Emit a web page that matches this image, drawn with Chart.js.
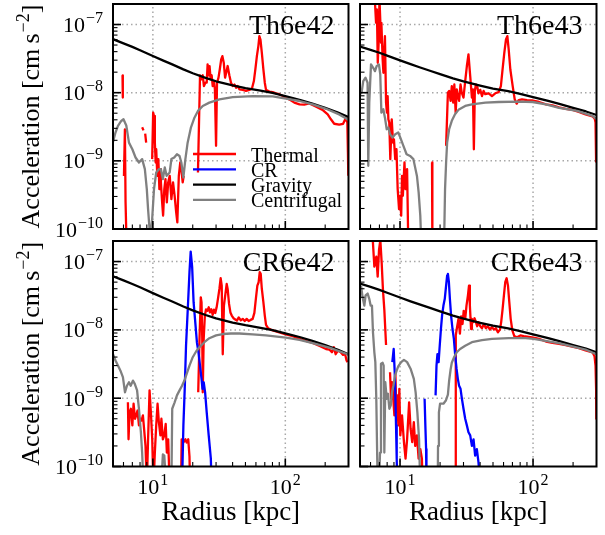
<!DOCTYPE html>
<html>
<head>
<meta charset="utf-8">
<script src="https://cdn.jsdelivr.net/npm/chart.js@4.4.1/dist/chart.umd.min.js"></script>
<style>
html,body{margin:0;padding:0;background:#ffffff;}
#wrap{position:relative;width:605px;height:535px;overflow:hidden;background:#ffffff;}
#wrap canvas{position:absolute;left:0;top:0;}
</style>
</head>
<body>
<div id="wrap">
<canvas id="c1" width="605" height="535"></canvas>
<canvas id="c2" width="605" height="535"></canvas>
<canvas id="c3" width="605" height="535"></canvas>
<canvas id="c4" width="605" height="535"></canvas>
</div>
<script>
// ---------------- labels ----------------
const panelTitles = ['Th6e42', 'Th6e43', 'CR6e42', 'CR6e43'];
const seriesNames = ['Thermal', 'CR', 'Gravity', 'Centrifugal'];
const seriesColors = ['#ff0000', '#0000ff', '#000000', '#808080'];
const xAxisTitle = 'Radius [kpc]';
const yAxisTitleParts = ['Acceleration [cm\u2009s', '\u22122', ']'];
const xTickValues = [10, 100];
const xTickExps = ['1', '2'];
const yTickValues = [1e-10, 1e-9, 1e-8, 1e-7];
const yTickExps = ['\u221210', '\u22129', '\u22128', '\u22127'];
const xMinorTicks = [6, 7, 8, 9, 20, 30, 40, 50, 60, 70, 80, 90, 200];

// ---------------- data: [radius kpc, acceleration cm s^-2] ----------------
const gravityLeft = [[5,6.1e-8],[6,5.3e-8],[7,4.7e-8],[8,4.2e-8],[10,3.45e-8],[12,2.95e-8],[14,2.6e-8],[17,2.2e-8],[20,1.93e-8],[25,1.65e-8],[30,1.47e-8],[40,1.28e-8],[50,1.17e-8],[65,1.07e-8],[80,9.9e-9],[100,8.9e-9],[130,7.8e-9],[160,6.9e-9],[200,6.0e-9],[250,5.1e-9],[300,4.4e-9]];
const gravityRight = [[5,4.75e-8],[6,4.25e-8],[7,3.85e-8],[8,3.5e-8],[10,2.98e-8],[12,2.62e-8],[14,2.36e-8],[17,2.08e-8],[20,1.87e-8],[25,1.62e-8],[30,1.46e-8],[40,1.27e-8],[50,1.15e-8],[65,1.05e-8],[80,9.6e-9],[100,8.6e-9],[130,7.6e-9],[160,6.8e-9],[200,6.0e-9],[250,5.3e-9],[300,4.7e-9]];

// Th6e42
const th42Thermal = [[5.9,1.8e-8],[5.93,8.5e-9],[6.0,null],[6.05,6.0e-10],[6.15,2.9e-9],[6.22,2.46e-10],[6.3,8.9e-11],[7.5,null],[8.3,3.1e-9],[8.5,2.8e-9],[8.6,null],[8.75,2.5e-9],[8.9,1.85e-9],[9.5,null],
[9.88,1.06e-9],[10.05,5.1e-9],[10.2,4.56e-9],[10.35,1.85e-9],[10.5,9.46e-10],[10.6,1.48e-9],[10.8,6.03e-10],[11.0,1.06e-9],[11.2,3.85e-10],[11.4,7.55e-10],[11.5,4.82e-10],[11.75,2.46e-10],[11.95,1.57e-10],[12.2,3.85e-10],[12.45,5.39e-10],[12.75,2.46e-10],[13.05,4.82e-10],[13.4,6.03e-10],[13.8,2.75e-10],[14.2,4.82e-10],[14.6,3.07e-10],[15.0,1.75e-10],[15.3,1.25e-10],[15.7,6.03e-10],[16.1,9.46e-10],[16.4,7.55e-10],[16.8,4.82e-10],[17.1,6.03e-10],[20.0,null],
[21.9,6.75e-10],[22.7,1.8e-8],[23.2,1.57e-8],[23.8,1.8e-8],[24.3,1.25e-8],[24.9,1.4e-8],[25.5,1.4e-8],[25.9,2.6e-8],[26.3,1.8e-8],[26.8,2.46e-8],[27.3,1.57e-8],[27.8,1.8e-8],[28.3,1.25e-8],[28.9,1.48e-8],[29.4,1.12e-8],[30.0,1.66e-9],[30.5,1.4e-8],[31.3,1.66e-8],[32.0,2.19e-8],[32.8,3.07e-8],[33.5,3.44e-8],[34.3,2.75e-8],[35.1,1.66e-8],[36.7,2.46e-8],[37.8,1.8e-8],[38.9,1.4e-8],[40.1,1.25e-8],[41.3,1.32e-8],[42.5,1.18e-8],[43.7,1.25e-8],[45.0,1.12e-8],[47.7,1.1e-8],[50.5,1.06e-8],[53.5,1.1e-8],[56.0,1.15e-8],[57.9,1.48e-8],[59.4,2.19e-8],[61.0,3.44e-8],[62.6,4.82e-8],[63.7,6.75e-8],[64.9,6.03e-8],[66.5,3.85e-8],[68.3,2.19e-8],[70.0,1.4e-8],[71.5,1.1e-8],[75.8,1.04e-8],[80.3,1.02e-8],[85.1,9.8e-9],[90.1,9.5e-9],[95.5,8.93e-9],[101,8.45e-9],[107,7.98e-9],[117,7.14e-9],[128,6.75e-9],[139,6.7e-9],[152,6.95e-9],[171,6.2e-9],[191,5.6e-9],[209,4.8e-9],[221,4.07e-9],[234,3.5e-9],[255,3.4e-9],[273,3.5e-9],[287,4.3e-9],[294,3.64e-9],[297,1.32e-9],[299,6.03e-10]];
const th42Centrifugal = [[5.0,1.9e-9],[5.22,2.6e-9],[5.45,3.25e-9],[5.77,3.85e-9],[6.0,4.07e-9],[6.3,3.3e-9],[6.6,1.85e-9],[7.0,1.48e-9],[7.4,1.12e-9],[7.85,9.46e-10],[8.3,1.06e-9],[8.7,7.55e-10],[9.0,3.85e-10],[9.2,1.96e-10],[9.44,1.0e-10],[9.65,8.9e-11],[9.88,1.4e-10],[10.2,3.85e-10],[10.6,6.75e-10],[11.1,7.55e-10],[11.5,7.55e-10],[11.9,5.39e-10],[12.3,8.0e-10],[12.7,6.03e-10],[13.4,6.75e-10],[13.8,1.06e-9],[14.5,1.12e-9],[15.2,1.25e-9],[15.9,1.18e-9],[16.4,9.46e-10],[17.0,5.7e-10],[17.6,1.06e-9],[18.3,1.85e-9],[19.4,3.1e-9],[20.6,4.3e-9],[21.9,5.4e-9],[23.8,6.38e-9],[26.7,7.14e-9],[31.8,7.98e-9],[40.1,8.6e-9],[56.7,8.93e-9],[80.3,8.8e-9],[101,8.2e-9],[128,7.55e-9],[161,6.75e-9],[203,5.8e-9],[255,4.8e-9],[295,4.07e-9],[300,3.95e-9]];

// Th6e43
const th43Thermal = [[6.45,2.5e-7],[6.6,1.06e-7],[6.7,1.66e-7],[6.8,2.75e-8],[6.94,6.75e-8],[7.0,2.5e-7],[7.1,1.18e-7],[7.2,5.39e-8],[7.24,1.06e-7],[7.4,3.07e-8],[7.5,1.96e-8],[7.7,6.75e-8],[7.85,7.14e-9],[7.97,5.1e-9],[8.07,8.93e-9],[8.17,4.07e-9],[8.3,3.64e-9],[8.45,1.06e-9],[8.66,4.07e-9],[8.86,1.85e-9],[9.0,2.07e-9],[9.2,1.06e-9],[9.4,1.48e-9],[9.6,3.85e-10],[9.83,1.96e-10],[10.0,3.07e-10],[10.2,1.57e-10],[10.35,6.03e-10],[10.5,3.07e-10],[10.8,9.46e-10],[11.0,3.85e-10],[11.3,7.55e-10],[11.55,5e-11],[15,null],[17.4,9.46e-10],[17.5,5e-11],[20,null],
[22.2,1.66e-9],[22.9,1.0e-8],[23.4,1.06e-8],[24.0,7.6e-9],[24.5,1.25e-8],[25.1,7.14e-9],[25.6,1.32e-8],[26.2,5.1e-9],[26.7,1.12e-8],[27.2,8.93e-9],[27.8,7.6e-9],[28.5,1.32e-8],[29.1,1.0e-8],[30.0,8.45e-9],[30.9,1.48e-8],[31.8,2.46e-8],[32.7,3.64e-8],[33.7,1.75e-8],[34.7,8.45e-9],[35.3,1.12e-8],[35.9,1.48e-9],[36.5,1.06e-8],[37.2,1.32e-8],[38.0,1.25e-8],[38.9,9.8e-9],[40.1,1.1e-8],[41.3,8.93e-9],[42.5,1.06e-8],[43.7,9.5e-9],[46.4,9.8e-9],[49.1,8.93e-9],[52.0,9.8e-9],[55.1,1.02e-8],[57.3,1.25e-8],[59.0,2.19e-8],[60.8,3.85e-8],[62.6,6.03e-8],[64.1,6.75e-8],[65.6,4.31e-8],[67.5,2.19e-8],[70.3,1.25e-8],[72.8,7.98e-9],[75.4,6.9e-9],[78.0,7.8e-9],[82.6,7.98e-9],[90.1,7.8e-9],[98.2,7.7e-9],[111,7.3e-9],[125,6.75e-9],[140,6.5e-9],[157,6.1e-9],[176,5.8e-9],[198,5.6e-9],[221,5.2e-9],[248,4.8e-9],[280,4.5e-9],[291,4.15e-9],[295,3.64e-9],[298,9.46e-10]];
const th43Centrifugal = [[5.0,9.5e-9],[5.14,1.0e-8],[5.29,1.48e-8],[5.5,1.66e-8],[5.7,1.4e-8],[5.77,8.45e-10],[5.87,7.14e-9],[6.05,2.6e-8],[6.3,2.3e-8],[6.48,2.07e-8],[6.67,2.45e-8],[6.94,2.6e-8],[7.1,1.86e-8],[7.24,5.1e-9],[7.49,5.7e-9],[7.7,4.3e-9],[7.94,2.91e-9],[8.17,3.08e-9],[8.41,2.46e-9],[8.77,2.19e-9],[9.2,2.46e-9],[9.7,2.6e-9],[10.05,2.19e-9],[10.6,1.66e-9],[11.2,1.25e-9],[11.9,1.18e-9],[12.6,1.06e-9],[13.4,6.0e-10],[13.8,3.44e-10],[14.2,1.57e-10],[14.5,5e-11],[18,null],
[21.4,5e-11],[21.8,3.85e-10],[22.2,9.46e-10],[22.6,1.85e-9],[23.4,2.91e-9],[24.5,3.87e-9],[25.9,4.83e-9],[27.5,5.6e-9],[30.9,6.38e-9],[34.7,6.75e-9],[43.8,7.14e-9],[55.1,7.3e-9],[78.0,7.4e-9],[99.3,7.3e-9],[125,6.75e-9],[157,6.0e-9],[214,5.4e-9],[280,4.56e-9],[300,4.1e-9]];

// CR6e42
const cr42Thermal = [[6.48,8.7e-10],[6.55,2.5e-10],[6.67,6.2e-10],[6.82,7.0e-10],[7.0,4.0e-10],[7.15,8.3e-10],[7.33,5.0e-10],[7.49,5.6e-10],[7.66,6.6e-10],[7.85,4.0e-10],[8.03,5.0e-10],[8.22,4.7e-10],[8.41,5.6e-10],[8.6,3.4e-10],[8.8,2.0e-10],[9.0,5e-11],[9.2,2.5e-10],[9.44,1.3e-9],[9.66,6.2e-10],[9.89,2.5e-10],[10.1,5e-11],[10.35,1.6e-10],[10.6,4.0e-10],[10.85,8.3e-10],[11.1,4.45e-10],[11.4,2.85e-10],[11.6,5.0e-10],[11.9,2.5e-10],[12.2,2.85e-10],[12.5,4.2e-10],[12.75,1.6e-10],[13.05,2.5e-10],[13.4,5e-11],[15,null],
[16.3,5e-11],[16.5,2.5e-10],[17.0,2.25e-10],[17.6,2.5e-10],[18.0,2.25e-10],[18.5,2.5e-10],[18.9,1.4e-10],[19.1,5e-11],[20.5,null],
[22.0,1.22e-9],[22.5,7.4e-9],[23.0,3.0e-8],[23.3,2.55e-8],[23.6,7.4e-9],[23.8,1.22e-9],[24.2,7.4e-9],[24.7,1.62e-8],[25.2,2.0e-8],[25.8,1.9e-8],[26.4,2.14e-8],[27.0,1.8e-8],[27.6,2.0e-8],[28.3,1.66e-8],[28.9,1.98e-8],[29.6,1.77e-8],[30.3,2.14e-8],[31.0,2.85e-8],[31.8,3.97e-8],[32.5,5.7e-8],[33.1,4.45e-8],[33.7,4.4e-9],[34.4,2.27e-8],[35.3,3.37e-8],[36.1,4.7e-8],[36.7,3.97e-8],[37.6,2.4e-8],[38.5,1.8e-8],[39.4,1.62e-8],[40.6,1.48e-8],[41.9,1.42e-8],[43.1,1.37e-8],[44.5,1.52e-8],[46.1,1.38e-8],[47.7,1.45e-8],[49.4,1.35e-8],[51.1,1.45e-8],[52.9,1.35e-8],[54.7,1.4e-8],[56.7,1.45e-8],[58.4,1.77e-8],[60.1,3.0e-8],[61.5,4.45e-8],[62.9,4.98e-8],[64.1,7.0e-8],[65.2,6.6e-8],[66.5,3.97e-8],[68.3,2.55e-8],[70.0,1.62e-8],[71.5,1.18e-8],[74.1,1.06e-8],[77.5,1.01e-8],[82.7,9.65e-9],[90.1,9.2e-9],[101,8.6e-9],[114,8.1e-9],[128,7.4e-9],[143,6.9e-9],[161,6.45e-9],[180,5.85e-9],[203,5.25e-9],[215,5.15e-9],[225,4.7e-9],[232,5.6e-9],[240,4.4e-9],[250,5.0e-9],[262,4.7e-9],[273,4.3e-9],[283,4.4e-9],[290,3.56e-9],[295,3.37e-9]];
const cr42CR = [[16.6,5e-11],[17.0,4.0e-10],[17.4,1.37e-9],[17.8,5.9e-9],[18.4,2.27e-8],[18.9,7.0e-8],[19.3,1.4e-7],[19.8,8.3e-8],[20.3,2.54e-8],[20.8,1.45e-8],[21.5,6.6e-9],[22.1,4.7e-9],[22.7,3.0e-9],[23.3,1.92e-9],[23.7,1.37e-9],[24.2,1.71e-9],[24.8,1.22e-9],[25.5,6.2e-10],[26.4,2.85e-10],[27.4,1.3e-10],[27.8,5e-11]];
const cr42Centrifugal = [[5.0,4.4e-9],[5.22,3.56e-9],[5.45,3.0e-9],[5.68,2.55e-9],[5.94,2.03e-9],[6.16,1.22e-9],[6.37,1.52e-9],[6.6,1.71e-9],[6.8,1.52e-9],[7.07,1.81e-9],[7.3,1.62e-9],[7.6,1.3e-9],[7.85,7.0e-10],[8.12,3.17e-10],[8.3,1.6e-10],[8.5,5e-11],[11.55,5e-11],[11.9,1.5e-10],[12.2,1.44e-10],[12.6,5e-11],[13.8,5e-11],[14.0,7.0e-10],[14.6,8.7e-10],[15.2,1.1e-9],[15.9,1.3e-9],[16.6,1.52e-9],[17.3,1.81e-9],[18.0,2.27e-9],[18.9,3.0e-9],[20.0,3.98e-9],[21.2,4.83e-9],[22.5,5.6e-9],[24.5,6.6e-9],[26.7,7.55e-9],[30.0,8.3e-9],[33.7,8.7e-9],[38.9,8.85e-9],[45.0,8.85e-9],[56.7,8.6e-9],[71.5,8.3e-9],[101,7.7e-9],[128,7.14e-9],[161,6.38e-9],[215,5.5e-9],[295,4.4e-9],[300,4.3e-9]];

// CR6e43
const cr43Thermal = [[6.19,2.5e-7],[6.26,1.85e-7],[6.41,8.45e-8],[6.63,1.18e-7],[6.79,6.03e-8],[6.95,1.48e-7],[7.11,2.07e-7],[7.28,9.4e-8],[7.44,3.85e-8],[7.62,1.96e-8],[7.75,1.0e-8],[7.85,6.0e-9],[8.0,null],
[8.41,2.4e-9],[8.56,9.8e-10],[8.70,1.71e-9],[8.86,1.1e-9],[9.07,5.6e-10],[9.22,2.4e-9],[9.39,6.2e-10],[9.55,1.1e-9],[9.71,4.0e-10],[9.88,1.37e-9],[10.05,2.85e-10],[10.35,5.6e-10],[10.7,2.27e-10],[11.0,1.3e-10],[11.3,2.5e-10],[11.7,8.7e-10],[12.0,3.6e-10],[12.35,2.27e-10],[12.7,4.45e-10],[13.0,2.0e-10],[13.4,2.85e-10],[13.8,1.3e-10],[14.2,1.8e-10],[14.6,1.3e-10],[14.8,5e-11],[20,null],
[26.0,5e-11],[26.2,1.92e-9],[26.3,8.3e-9],[26.7,1.03e-8],[27.5,1.45e-8],[28.2,8.8e-9],[28.8,1.58e-8],[29.5,1.22e-8],[30.1,1.9e-8],[30.9,1.45e-8],[31.6,2.27e-8],[32.4,3.2e-8],[33.0,4.45e-8],[33.5,2.27e-8],[34.2,1.03e-8],[34.7,1.45e-8],[35.5,1.3e-8],[36.3,1.48e-8],[37.2,1.3e-8],[38.0,1.13e-8],[38.9,1.3e-8],[40.1,1.13e-8],[41.3,1.06e-8],[42.7,1.22e-8],[44.2,1.06e-8],[45.8,1.13e-8],[47.4,1.01e-8],[49.1,1.1e-8],[50.8,1.01e-8],[52.6,1.06e-8],[54.4,9.2e-9],[56.4,1.01e-8],[57.6,1.3e-8],[59.0,2.0e-8],[60.4,3.2e-8],[61.8,4.98e-8],[63.3,5.7e-8],[64.8,4.45e-8],[66.3,2.55e-8],[67.9,1.45e-8],[69.9,9.8e-9],[72.3,8.1e-9],[75.8,7.8e-9],[80.3,8.3e-9],[85.1,8.1e-9],[92.8,7.9e-9],[101,7.7e-9],[111,7.4e-9],[125,6.75e-9],[140,6.45e-9],[157,6.25e-9],[176,6.0e-9],[197,5.7e-9],[221,5.4e-9],[248,5.0e-9],[280,4.7e-9],[290,4.1e-9],[295,3.0e-9],[298,1.37e-9],[299,5.0e-10]];
const cr43CR = [[8.75,3.37e-9],[8.96,5.25e-9],[9.12,2.4e-9],[9.22,1.1e-9],[9.33,4.0e-10],[9.44,1.3e-10],[9.55,5e-11],[12,null],[15.3,9.8e-10],[15.5,4.0e-10],[15.7,1.8e-10],[15.8,5e-11],[17,null],
[18.5,1.1e-9],[18.8,3.0e-9],[19.1,4.4e-9],[19.5,3.37e-9],[19.8,5.25e-9],[20.3,1.03e-8],[20.7,1.62e-8],[21.2,2.27e-8],[21.7,2.85e-8],[22.2,4.45e-8],[22.6,6.25e-8],[22.9,6.6e-8],[23.3,4.98e-8],[23.7,2.85e-8],[24.2,1.62e-8],[24.8,1.03e-8],[25.4,7.4e-9],[26.0,4.2e-9],[26.6,2.7e-9],[27.2,1.92e-9],[27.8,1.52e-9],[28.5,1.37e-9],[29.2,9.8e-10],[30.0,7.0e-10],[30.9,5.0e-10],[31.8,4.0e-10],[32.7,3.17e-10],[33.7,2.85e-10],[34.7,2.0e-10],[35.7,2.5e-10],[36.7,1.44e-10],[37.8,1.8e-10],[38.9,1.15e-10],[40.1,5e-11]];
const cr43Centrifugal = [[5.0,4.0e-8],[5.1,4.3e-8],[5.23,3.0e-8],[5.39,2.27e-8],[5.51,3.2e-8],[5.71,3.4e-8],[5.87,2.85e-8],[6.01,2.27e-8],[6.15,2.27e-8],[6.26,9.2e-9],[6.41,4.7e-9],[6.52,3.37e-9],[6.63,9.8e-10],[6.79,5e-11],[6.95,5e-11],[7.07,1.6e-10],[7.19,3.2e-9],[7.40,3.3e-9],[7.53,3.0e-9],[7.62,1.6e-10],[7.75,1.71e-9],[7.94,9.8e-10],[8.12,1.16e-9],[8.31,7.0e-10],[8.51,7.8e-10],[8.70,1.22e-9],[8.91,1.52e-9],[9.17,2.14e-9],[9.44,2.55e-9],[9.71,2.95e-9],[10.2,3.37e-9],[10.7,3.64e-9],[11.3,3.37e-9],[12.0,2.7e-9],[12.7,1.92e-9],[13.1,1.22e-9],[13.5,6.2e-10],[13.9,2.5e-10],[14.2,5e-11],
[19.2,5e-11],[19.3,2.0e-10],[19.6,6.2e-10],[20.0,8.3e-10],[21.2,8.3e-10],[22.1,9.25e-10],[22.9,1.13e-9],[23.4,1.81e-9],[24.0,2.63e-9],[24.5,3.3e-9],[25.4,3.93e-9],[26.7,4.7e-9],[28.3,5.25e-9],[30.9,5.85e-9],[34.7,6.6e-9],[41.3,7.06e-9],[49.1,7.4e-9],[65.6,7.55e-9],[87.6,7.55e-9],[101,7.4e-9],[124,6.9e-9],[156,6.38e-9],[197,5.75e-9],[248,5.15e-9],[299,4.4e-9]];

// ---------------- drawing helpers ----------------
const SERIF = '"Liberation Serif", "Times New Roman", Times, serif';

function yMinorList() {
  const out = [];
  for (let e = -10; e <= -8; e++) for (let k = 2; k <= 9; k++) out.push(k * Math.pow(10, e));
  return out;
}
const yMinorTicks = yMinorList();

function drawPow10(ctx, exp, x, y, align) {
  const bs = 22, ss = 16, raise = 9, gap = 1;
  ctx.font = bs + 'px ' + SERIF;
  const wb = ctx.measureText('10').width;
  ctx.font = ss + 'px ' + SERIF;
  const we = ctx.measureText(exp).width;
  const w = wb + gap + we;
  let x0 = x;
  if (align === 'right') x0 = x - w; else if (align === 'center') x0 = x - w / 2;
  ctx.textAlign = 'left';
  ctx.textBaseline = 'alphabetic';
  ctx.fillStyle = '#000';
  ctx.font = bs + 'px ' + SERIF;
  ctx.fillText('10', x0, y);
  ctx.font = ss + 'px ' + SERIF;
  ctx.fillText(exp, x0 + wb + gap, y - raise);
}

function seg(ctx, x1, y1, x2, y2) {
  ctx.beginPath(); ctx.moveTo(x1, y1); ctx.lineTo(x2, y2); ctx.stroke();
}

const decor = {
  id: 'decor',
  beforeDatasetsDraw(chart, args, o) {
    const ctx = chart.ctx, a = chart.chartArea, xs = chart.scales.x, ys = chart.scales.y;
    ctx.save();
    ctx.strokeStyle = '#a8a8a8';
    ctx.lineWidth = 1.5;
    ctx.setLineDash([1.5, 3.0]);
    xTickValues.forEach(v => { const p = xs.getPixelForValue(v); seg(ctx, p, a.bottom, p, a.top); });
    yTickValues.forEach(v => {
      const p = ys.getPixelForValue(v);
      if (p > a.top + 1 && p < a.bottom - 1) seg(ctx, a.left, p, a.right, p);
    });
    ctx.restore();
  },
  afterDatasetsDraw(chart, args, o) {
    const ctx = chart.ctx, a = chart.chartArea, xs = chart.scales.x, ys = chart.scales.y;
    ctx.save();
    ctx.setLineDash([]);
    ctx.strokeStyle = '#000';
    ctx.lineWidth = 1.6;
    xTickValues.forEach(v => { const p = xs.getPixelForValue(v); seg(ctx, p, a.bottom, p, a.bottom - 8); });
    yTickValues.forEach(v => { const p = ys.getPixelForValue(v); seg(ctx, a.left, p, a.left + 8, p); });
    ctx.lineWidth = 1.1;
    xMinorTicks.forEach(v => { const p = xs.getPixelForValue(v); seg(ctx, p, a.bottom, p, a.bottom - 4.5); });
    yMinorTicks.forEach(v => { const p = ys.getPixelForValue(v); seg(ctx, a.left, p, a.left + 4.5, p); });
    ctx.lineWidth = 2;
    ctx.strokeRect(a.left, a.top, a.right - a.left, a.bottom - a.top);
    if (o.yLabels) yTickValues.forEach((v, i) => drawPow10(ctx, yTickExps[i], a.left - 10, ys.getPixelForValue(v) + 7.5, 'right'));
    if (o.xLabels) xTickValues.forEach((v, i) => drawPow10(ctx, xTickExps[i], xs.getPixelForValue(v), a.bottom + 27, 'center'));
    ctx.fillStyle = '#000';
    ctx.font = '28px ' + SERIF;
    ctx.textAlign = 'right';
    ctx.textBaseline = 'alphabetic';
    ctx.fillText(o.title, a.right - 14, a.top + 30);
    if (o.legend) {
      const lx1 = a.left + 80, lx2 = a.left + 123, tx = a.left + 138;
      ctx.font = '20px ' + SERIF;
      ctx.textAlign = 'left';
      seriesNames.forEach((name, i) => {
        const yy = a.top + 150 + i * 15.3;
        ctx.strokeStyle = seriesColors[i];
        ctx.lineWidth = 2.3;
        seg(ctx, lx1, yy, lx2, yy);
        ctx.fillStyle = '#000';
        ctx.fillText(name, tx, yy + 7.5);
      });
    }
    ctx.fillStyle = '#000';
    if (o.xTitle) {
      ctx.font = '27px ' + SERIF;
      ctx.textAlign = 'center';
      ctx.fillText(xAxisTitle, (a.left + a.right) / 2, 520);
    }
    if (o.yTitle) {
      ctx.save();
      ctx.translate(39, (a.top + a.bottom) / 2);
      ctx.rotate(-Math.PI / 2);
      const fs = 26, ss = 18;
      ctx.font = fs + 'px ' + SERIF; const w1 = ctx.measureText(yAxisTitleParts[0]).width; const w3 = ctx.measureText(yAxisTitleParts[2]).width;
      ctx.font = ss + 'px ' + SERIF; const w2 = ctx.measureText(yAxisTitleParts[1]).width;
      let x0 = -(w1 + w2 + w3 + 1) / 2;
      ctx.textAlign = 'left';
      ctx.font = fs + 'px ' + SERIF; ctx.fillText(yAxisTitleParts[0], x0, 0);
      ctx.font = ss + 'px ' + SERIF; ctx.fillText(yAxisTitleParts[1], x0 + w1 + 1, -10);
      ctx.font = fs + 'px ' + SERIF; ctx.fillText(yAxisTitleParts[2], x0 + w1 + w2 + 1, 0);
      ctx.restore();
    }
    ctx.restore();
  }
};

function toXY(pairs) { return pairs.map(p => ({ x: p[0], y: p[1] })); }

function makePanel(id, pad, series, opts) {
  const datasets = [];
  series.forEach((s, i) => {
    if (!s) return;
    datasets.push({
      label: seriesNames[i],
      data: toXY(s),
      borderColor: seriesColors[i],
      backgroundColor: seriesColors[i],
      borderWidth: 2.3,
      pointRadius: 0,
      pointHoverRadius: 0,
      fill: false,
      spanGaps: false,
      tension: 0,
      borderJoinStyle: 'round',
      borderCapStyle: 'butt',
      clip: 0,
      order: 4 - i
    });
  });
  return new Chart(document.getElementById(id), {
    type: 'line',
    data: { datasets },
    options: {
      responsive: false,
      animation: false,
      events: [],
      layout: { padding: pad },
      scales: {
        x: { type: 'logarithmic', min: 5, max: 300, display: false },
        y: { type: 'logarithmic', min: 1e-10, max: 2e-7, display: false }
      },
      plugins: {
        legend: { display: false },
        tooltip: { enabled: false },
        decor: opts
      }
    },
    plugins: [decor]
  });
}

makePanel('c1', { left: 113, top: 4, right: 256.5, bottom: 306 },
  [th42Thermal, null, gravityLeft, th42Centrifugal],
  { title: panelTitles[0], yLabels: true, xLabels: false, legend: true, yTitle: true, xTitle: false });
makePanel('c2', { left: 360, top: 4, right: 8.5, bottom: 306 },
  [th43Thermal, null, gravityRight, th43Centrifugal],
  { title: panelTitles[1], yLabels: false, xLabels: false, legend: false, yTitle: false, xTitle: false });
makePanel('c3', { left: 113, top: 241, right: 256.5, bottom: 68.5 },
  [cr42Thermal, cr42CR, gravityLeft, cr42Centrifugal],
  { title: panelTitles[2], yLabels: true, xLabels: true, legend: false, yTitle: true, xTitle: true });
makePanel('c4', { left: 360, top: 241, right: 8.5, bottom: 68.5 },
  [cr43Thermal, cr43CR, gravityRight, cr43Centrifugal],
  { title: panelTitles[3], yLabels: false, xLabels: true, legend: false, yTitle: false, xTitle: true });
</script>
</body>
</html>
